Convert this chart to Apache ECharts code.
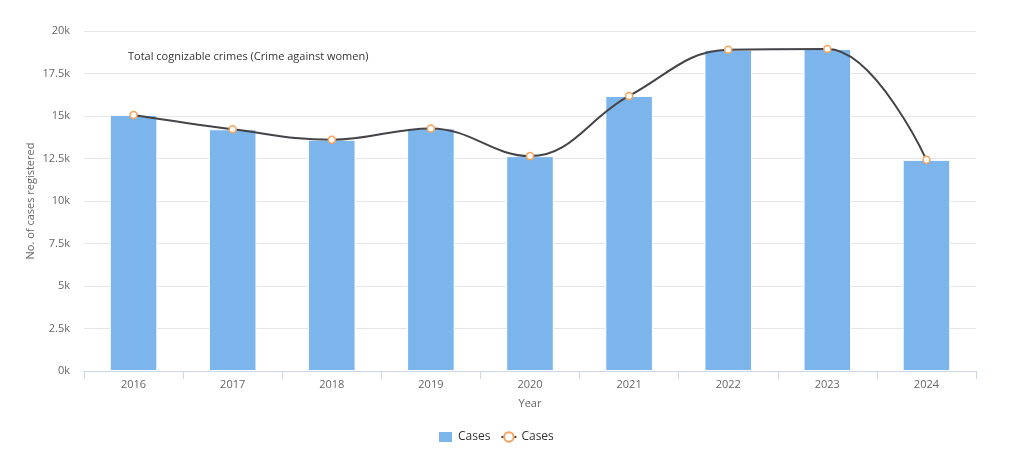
<!DOCTYPE html>
<html><head><meta charset="utf-8">
<script src="https://cdn.jsdelivr.net/npm/echarts@6/dist/echarts.min.js"></script>
<style>html,body{margin:0;padding:0;background:#fff}#c{width:1024px;height:463px}</style>
</head><body><div id="c"></div>
<script>
const years = ['2016','2017','2018','2019','2020','2021','2022','2023','2024'];
const barCases = [15060, 14220, 13600, 14270, 12640, 16180, 18900, 18940, 12420];
const lineCases = [15060, 14220, 13600, 14270, 12640, 16180, 18900, 18940, 12420];
const chartTitle = 'Total cognizable crimes (Crime against women)';
const yName = 'No. of cases registered';
const xName = 'Year';
const FONT = '"Open Sans", "DejaVu Sans", sans-serif';
const chart = echarts.init(document.getElementById('c'));
chart.setOption({
  animation: false,
  textStyle: {fontFamily: FONT},
  title: {text: chartTitle, left: 123, top: 46, textStyle: {fontSize: 11, fontWeight: 'normal', color: '#333', fontFamily: FONT}},
  grid: {left: 84, right: 48, top: 31, bottom: 92},
  legend: {
    bottom: 14, left: 432, itemGap: 10, itemWidth: 15, itemHeight: 12,
    textStyle: {fontSize: 12, color: '#333', fontFamily: FONT},
    formatter: n => n.trim(),
    data: [{name: 'Cases', icon: 'rect'}, {name: 'Cases '}]
  },
  xAxis: {
    type: 'category', data: years, name: xName, nameLocation: 'middle', nameGap: 27,
    nameMoveOverlap: false,
    nameTextStyle: {fontSize: 11, color: '#666'},
    axisLine: {lineStyle: {color: '#ccd6eb'}},
    axisTick: {show: true, length: 8, lineStyle: {color: '#ccd6eb'}},
    axisLabel: {fontSize: 11, color: '#666', margin: 8}
  },
  yAxis: {
    type: 'value', min: 0, max: 20000, interval: 2500,
    name: yName, nameLocation: 'middle', nameGap: 48,
    nameMoveOverlap: false,
    nameTextStyle: {fontSize: 11, color: '#666'},
    axisLine: {show: false}, axisTick: {show: false},
    axisLabel: {fontSize: 11, color: '#666', margin: 14, formatter: v => (v/1000) + 'k'},
    splitLine: {lineStyle: {color: '#e6e6e6'}}
  },
  series: [
    {name: 'Cases', type: 'bar', data: barCases, barWidth: '48%',
     itemStyle: {color: '#7cb5ec', borderColor: '#fff', borderWidth: 1}},
    {name: 'Cases ', type: 'line', data: lineCases, smooth: 0.4,
     symbol: 'circle', symbolSize: 7,
     lineStyle: {color: '#434348', width: 2},
     itemStyle: {color: '#fff', borderColor: '#f7a35c', borderWidth: 1.5}}
  ]
});
</script></body></html>
